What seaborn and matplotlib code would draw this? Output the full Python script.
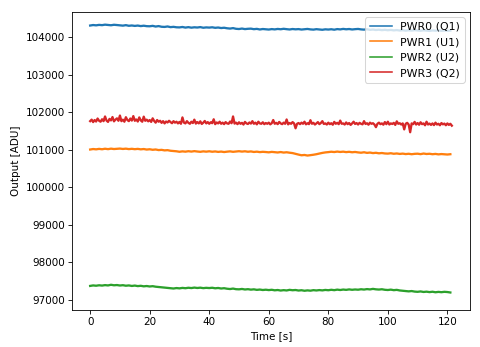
import numpy as np
import pandas as pd
import matplotlib
matplotlib.use("Agg")
import matplotlib.pyplot as plt
import seaborn as sns

time_s = np.arange(0, 122)          # 1 s sampling for PWR0..PWR2
time_fine_s = np.arange(0, 122, 0.5)  # 0.5 s sampling for PWR3

pwr0_q1 = [
    104305, 104318, 104310, 104322, 104315, 104328, 104320, 104312, 104325, 104318,
    104310, 104302, 104315, 104298, 104306, 104295, 104304, 104290, 104300, 104288,
    104285, 104296, 104278, 104290, 104272, 104268, 104280, 104262, 104270, 104258,
    104255, 104266, 104250, 104262, 104248, 104258, 104252, 104263, 104246, 104255,
    104250, 104258, 104244, 104252, 104238, 104246, 104232, 104224, 104236, 104218,
    104212, 104224, 104210, 104218, 104222, 104208, 104216, 104200, 104212, 104205,
    104198, 104210, 104202, 104214, 104206, 104218, 104208, 104200, 104212, 104204,
    104210, 104198, 104206, 104214, 104202, 104196, 104208, 104200, 104192, 104204,
    104198, 104206, 104194, 104210, 104202, 104215, 104205, 104212, 104200, 104208,
    104214, 104202, 104196, 104206, 104190, 104198, 104186, 104194, 104182, 104190,
    104180, 104188, 104176, 104184, 104172, 104180, 104168, 104178, 104170, 104182,
    104174, 104166, 104178, 104170, 104162, 104174, 104168, 104176, 104164, 104172,
    104166, 104170,
]

pwr1_u1 = [
    101005, 101018, 101010, 101022, 101012, 101026, 101015, 101028, 101018, 101024,
    101030, 101020, 101028, 101016, 101024, 101014, 101022, 101010, 101018, 101004,
    101012, 100998, 101006, 100990, 100996, 100982, 100988, 100972, 100965, 100958,
    100945, 100956, 100948, 100960, 100950, 100962, 100952, 100944, 100956, 100948,
    100958, 100946, 100954, 100942, 100950, 100938, 100948, 100956, 100944, 100952,
    100960, 100950, 100958, 100946, 100954, 100940, 100948, 100936, 100944, 100938,
    100930, 100942, 100934, 100926, 100938, 100924, 100932, 100920, 100910, 100890,
    100870, 100852, 100860, 100845, 100855, 100866, 100880, 100898, 100915, 100928,
    100936, 100946, 100938, 100950, 100940, 100948, 100936, 100944, 100932, 100940,
    100928, 100920, 100932, 100916, 100924, 100910, 100918, 100904, 100912, 100900,
    100896, 100906, 100892, 100900, 100888, 100896, 100884, 100892, 100880, 100890,
    100894, 100882, 100898, 100886, 100892, 100880, 100888, 100876, 100884, 100878,
    100872, 100880,
]

pwr2_u2 = [
    97375, 97388, 97380, 97392, 97384, 97396, 97388, 97405, 97392, 97398,
    97386, 97394, 97380, 97388, 97374, 97384, 97370, 97378, 97364, 97372,
    97360, 97368, 97354, 97346, 97338, 97330, 97322, 97314, 97306, 97318,
    97310, 97322, 97314, 97326, 97318, 97330, 97320, 97328, 97316, 97324,
    97318, 97326, 97312, 97320, 97306, 97314, 97300, 97292, 97304, 97288,
    97284, 97294, 97280, 97288, 97276, 97284, 97270, 97278, 97266, 97274,
    97264, 97272, 97258, 97266, 97252, 97262, 97254, 97270, 97260, 97266,
    97252, 97260, 97246, 97256, 97248, 97262, 97254, 97264, 97256, 97268,
    97260, 97272, 97262, 97276, 97266, 97278, 97270, 97282, 97272, 97280,
    97274, 97286, 97278, 97290, 97282, 97296, 97284, 97278, 97286, 97272,
    97266, 97276, 97262, 97270, 97254, 97246, 97238, 97230, 97238, 97224,
    97218, 97228, 97214, 97222, 97210, 97220, 97206, 97216, 97208, 97218,
    97212, 97200,
]

pwr3_q2 = [
    101760, 101800, 101735, 101790, 101750, 101830, 101770, 101745, 101810, 101760,
    101885, 101775, 101740, 101820, 101780, 101870, 101755, 101800, 101835, 101770,
    101910, 101760, 101800, 101745, 101865, 101790, 101760, 101830, 101775, 101895,
    101770, 101805, 101750, 101860, 101780, 101745, 101880, 101770, 101800, 101755,
    101790, 101740, 101835, 101765, 101720, 101790, 101745, 101770, 101715, 101760,
    101700, 101750, 101725, 101770, 101735, 101705, 101760, 101720, 101745, 101700,
    101740, 101690, 101860, 101720, 101700, 101760, 101715, 101690, 101745, 101710,
    101800, 101695, 101735, 101700, 101755, 101685, 101720, 101765, 101700, 101735,
    101690, 101730, 101705, 101810, 101680, 101725, 101700, 101745, 101690, 101720,
    101680, 101735, 101700, 101690, 101750, 101705, 101885, 101695, 101720, 101680,
    101730, 101690, 101715, 101670, 101740, 101700, 101685, 101725, 101695, 101760,
    101690, 101720, 101675, 101745, 101700, 101690, 101730, 101680, 101710, 101690,
    101720, 101675, 101705, 101790, 101690, 101715, 101680, 101740, 101700, 101680,
    101720, 101690, 101805, 101675, 101710, 101690, 101735, 101700, 101570, 101690,
    101710, 101680, 101720, 101690, 101745, 101675, 101705, 101680, 101785, 101690,
    101715, 101670, 101700, 101735, 101680, 101710, 101760, 101685, 101700, 101670,
    101720, 101680, 101705, 101665, 101740, 101690, 101715, 101680, 101775, 101690,
    101700, 101670, 101725, 101680, 101710, 101660, 101700, 101745, 101685, 101710,
    101670, 101715, 101690, 101675, 101760, 101685, 101705, 101665, 101720, 101690,
    101705, 101670, 101600, 101690, 101720, 101680, 101700, 101665, 101735, 101680,
    101745, 101670, 101700, 101685, 101715, 101660, 101755, 101690, 101705, 101670,
    101700, 101540, 101690, 101715, 101670, 101465, 101700, 101680, 101740, 101670,
    101710, 101665, 101730, 101680, 101700, 101650, 101745, 101670, 101695, 101660,
    101700, 101655, 101720, 101670, 101690, 101650, 101710, 101675, 101695, 101650,
    101700, 101660, 101690, 101640,
]

labels = ["PWR0 (Q1)", "PWR1 (U1)", "PWR2 (U2)", "PWR3 (Q2)"]
series = [pwr0_q1, pwr1_u1, pwr2_u2, pwr3_q2]
times = [time_s, time_s, time_s, time_fine_s]

frames = []
for lab, t, vals in zip(labels, times, series):
    frames.append(pd.DataFrame({"Time [s]": t, "Output [ADU]": vals, "channel": lab}))
df = pd.concat(frames, ignore_index=True)

plt.rcParams["font.family"] = ["DejaVu Sans"]
fig = plt.figure(figsize=(6.4, 347 / 75), dpi=75)
ax = fig.add_axes([72 / 480, 1 - 310 / 347, (470 - 72) / 480, (310 - 12) / 347])

sns.lineplot(data=df, x="Time [s]", y="Output [ADU]", hue="channel",
             hue_order=labels, palette="tab10", estimator=None,
             linewidth=2.2, ax=ax)

ax.set_xlim(-6.1, 127.6)
ax.set_ylim(96734, 104665)
ax.set_xticks([0, 20, 40, 60, 80, 100, 120])
ax.set_yticks([97000, 98000, 99000, 100000, 101000, 102000, 103000, 104000])
ax.ticklabel_format(axis="y", style="plain", useOffset=False)
ax.set_xlabel("Time [s]")
ax.set_ylabel("Output [ADU]")

handles, labs = ax.get_legend_handles_labels()
leg = ax.legend(handles, labs, loc="upper right", fontsize=10.5)
for h in leg.get_lines():
    h.set_linewidth(1.5)

fig.savefig("out.png", dpi=75)
